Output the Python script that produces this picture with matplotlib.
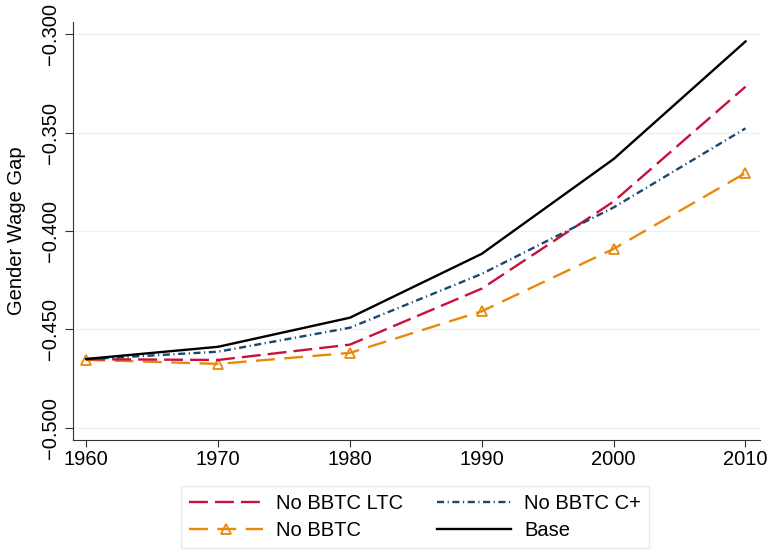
import matplotlib.pyplot as plt

plt.rcParams['font.family'] = ['Liberation Sans', 'DejaVu Sans']

years = [1960, 1970, 1980, 1990, 2000, 2010]
base = [-0.4651, -0.4589, -0.4441, -0.4116, -0.3634, -0.3036]
no_bbtc_ltc = [-0.4652, -0.4656, -0.4578, -0.4293, -0.3850, -0.3266]
no_bbtc_cplus = [-0.4652, -0.4614, -0.4492, -0.4218, -0.3880, -0.3478]
no_bbtc = [-0.4655, -0.4676, -0.4620, -0.4408, -0.4091, -0.3705]

yticks = [-0.300, -0.350, -0.400, -0.450, -0.500]

fig = plt.figure(figsize=(7.7, 5.55), dpi=100)
ax = fig.add_axes([73 / 770, 1 - 440 / 555, 687 / 770, 418 / 555])

ax.plot(years, no_bbtc, color='#e8890c', lw=1.7, dashes=(8, 4), marker='^',
        markersize=7, markerfacecolor='none', markeredgewidth=1.3, label='No BBTC')
ax.plot(years, no_bbtc_ltc, color='#c8103c', lw=1.7, dashes=(8, 3), label='No BBTC LTC')
ax.plot(years, no_bbtc_cplus, color='#1a476f', lw=1.7, dashes=(3, 1.5, 0.5, 1.5),
        label='No BBTC C+')
ax.plot(years, base, color='black', lw=1.7, label='Base')

ax.set_xlim(1959.0, 2011.1)
ax.set_ylim(-0.5063, -0.2937)
ax.set_xticks(years)
ax.set_yticks(yticks)
ax.set_yticklabels([f'{v:.3f}'.replace('-', '\u2212') for v in yticks],
                   rotation=90, va='center')
ax.tick_params(labelsize=14.5, color='#333333')
ax.tick_params(axis='x', length=5, pad=2)
ax.tick_params(axis='y', length=5.7, pad=4)
ax.set_ylabel('Gender Wage Gap', fontsize=14.5)
ax.yaxis.set_label_coords(-0.068, 0.5)
ax.grid(axis='y', color='#eaf2f3', lw=1)
ax.set_axisbelow(True)
for s in ['top', 'right']:
    ax.spines[s].set_visible(False)
for s in ['left', 'bottom']:
    ax.spines[s].set_color('#333333')

h, l = ax.get_legend_handles_labels()
order = [1, 0, 2, 3]
leg = fig.legend([h[i] for i in order], [l[i] for i in order], ncol=2,
                 loc='center', bbox_to_anchor=(415 / 770, 1 - 517 / 555),
                 fontsize=14.5, frameon=True, fancybox=False, handlelength=3.7,
                 handletextpad=0.65, columnspacing=1.65, borderpad=0.4,
                 labelspacing=0.4, borderaxespad=0)
leg.get_frame().set_edgecolor('#dde6e8')
leg.get_frame().set_linewidth(1)

fig.savefig('out.png', dpi=100)
